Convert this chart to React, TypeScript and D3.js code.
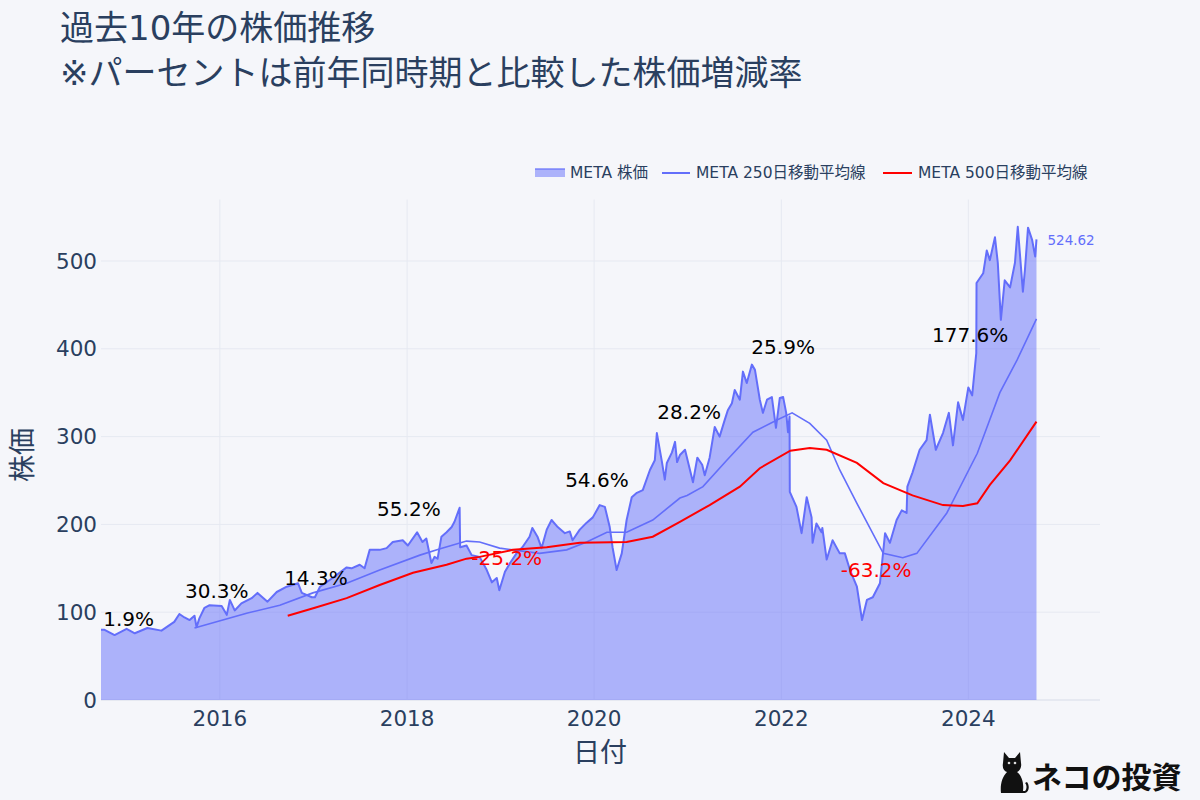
import React, { useEffect } from "react";
import * as d3 from "d3";

// ---------- data ----------
const priceDates = [
  "2014-09-24","2014-10-08","2014-11-16","2015-01-02","2015-02-03","2015-03-24","2015-05-18","2015-06-07",
  "2015-07-07","2015-07-27","2015-08-16","2015-09-05","2015-09-24","2015-10-02","2015-10-13","2015-11-02",
  "2015-11-22","2016-01-08","2016-01-28","2016-02-09","2016-02-28","2016-03-25","2016-05-04","2016-05-27",
  "2016-07-05","2016-08-10","2016-09-18","2016-11-01","2016-11-16","2016-12-25","2017-01-06","2017-01-26",
  "2017-03-16","2017-05-10","2017-05-29","2017-06-30","2017-07-19","2017-08-08","2017-09-16","2017-10-13",
  "2017-11-06","2017-12-15","2018-01-04","2018-02-09","2018-03-02","2018-03-17","2018-04-06","2018-04-18",
  "2018-04-30","2018-05-15","2018-06-04","2018-06-24","2018-07-05","2018-07-25","2018-07-27","2018-08-21",
  "2018-09-10","2018-10-11","2018-11-08","2018-11-28","2018-12-17","2018-12-27","2019-01-18","2019-02-07",
  "2019-03-04","2019-03-27","2019-04-24","2019-05-05","2019-05-25","2019-06-10","2019-06-30","2019-07-19",
  "2019-08-12","2019-09-09","2019-09-28","2019-10-09","2019-11-06","2019-12-03","2019-12-27","2020-01-23",
  "2020-02-12","2020-03-02","2020-03-13","2020-03-29","2020-04-18","2020-05-07","2020-05-27","2020-06-16",
  "2020-07-09","2020-08-06","2020-08-25","2020-09-02","2020-09-22","2020-10-03","2020-10-11","2020-10-31",
  "2020-11-12","2020-11-20","2020-12-01","2020-12-21","2021-01-21","2021-02-07","2021-02-26","2021-03-08",
  "2021-03-27","2021-04-16","2021-05-05","2021-05-25","2021-06-06","2021-06-22","2021-07-03","2021-07-23",
  "2021-08-04","2021-08-19","2021-09-08","2021-09-20","2021-10-09","2021-10-21","2021-11-06","2021-11-25",
  "2021-12-11","2021-12-26","2022-01-08","2022-01-20","2022-01-27","2022-02-02","2022-02-03","2022-03-01",
  "2022-03-21","2022-04-10","2022-04-29","2022-05-03","2022-05-18","2022-06-07","2022-06-10","2022-06-27",
  "2022-07-20","2022-08-17","2022-09-06","2022-09-26","2022-10-23","2022-11-12","2022-12-01","2022-12-24",
  "2023-01-21","2023-02-10","2023-03-01","2023-03-27","2023-04-16","2023-05-05","2023-05-08","2023-05-28",
  "2023-06-25","2023-07-22","2023-08-04","2023-08-27","2023-09-24","2023-10-17","2023-11-02","2023-11-22",
  "2023-12-11","2024-01-01","2024-01-16","2024-02-01","2024-02-02","2024-02-28","2024-03-13","2024-03-25",
  "2024-04-14","2024-04-25","2024-05-07","2024-05-22","2024-06-12","2024-07-01","2024-07-12","2024-08-01",
  "2024-08-09","2024-08-21","2024-09-06","2024-09-18","2024-09-23"
];
const priceValues = [
  80,80,74,81,76,82,79,83,
  89,98,94,91,96,83,93,105,
  108,107,97,114,102,110,116,122,
  112,123,129,133,122,117,117,129,
  139,151,150,154,150,171,171,173,
  180,182,176,191,180,184,156,163,
  161,186,191,197,203,219,174,176,
  165,163,148,134,139,125,146,156,
  167,174,186,196,186,173,194,205,
  197,190,192,182,194,202,208,222,
  220,197,174,148,167,205,231,236,
  239,262,273,304,271,251,270,282,
  294,271,279,285,248,276,268,256,
  276,311,300,319,330,338,353,342,
  374,361,382,376,342,327,342,345,
  310,344,345,327,305,323,237,220,
  190,231,208,179,201,191,196,160,
  182,167,167,148,129,91,114,117,
  133,190,179,205,216,213,243,259,
  285,296,325,285,304,327,290,339,
  319,356,347,395,475,486,512,501,
  527,498,433,478,470,498,539,465,
  490,538,524,505,524.62
];

const ma250Dates = [
  "2015-09-24","2016-04-18","2016-08-22","2016-12-29","2017-05-10","2017-09-16","2018-02-20","2018-05-07",
  "2018-08-21","2018-10-11","2018-12-28","2019-02-18","2019-06-02","2019-09-16","2019-12-03","2020-02-20",
  "2020-05-07","2020-08-17","2020-12-01","2020-12-29","2021-03-01","2021-06-02","2021-09-12","2021-12-15",
  "2022-02-12","2022-04-22","2022-06-27","2022-08-17","2022-10-23","2023-02-03","2023-04-20","2023-06-14",
  "2023-10-09","2024-02-05","2024-05-03","2024-07-09","2024-09-23"
];
const ma250Values = [
  82,99,108,122,133,148,165,172,
  181,180,173,171,167,171,180,191,
  191,205,230,233,243,273,305,319,
  327,315,296,262,224,167,162,167,
  213,281,350,387,434
];

const ma500Dates = [
  "2016-09-22","2017-01-06","2017-05-10","2017-09-16","2018-01-24","2018-06-04","2018-08-21","2018-10-11",
  "2019-02-18","2019-06-30","2019-11-06","2020-05-07","2020-08-17","2020-12-01","2021-03-27","2021-07-23",
  "2021-10-09","2022-02-05","2022-04-22","2022-06-27","2022-10-23","2023-02-03","2023-05-28","2023-09-24",
  "2023-12-11","2024-02-05","2024-03-25","2024-06-12","2024-09-23"
];
const ma500Values = [
  96,105,116,131,145,154,161,163,
  171,174,179,180,186,203,222,243,
  264,284,287,285,270,247,233,222,
  221,224,245,273,317
];

const annotationDates = [
  "2015-01-10","2015-12-20","2017-01-10","2018-01-08","2019-01-25",
  "2020-01-12","2021-01-06","2022-01-08","2023-01-06","2024-01-08"
];
const annotationTexts = ["1.9%","30.3%","14.3%","55.2%","-25.2%","54.6%","28.2%","25.9%","-63.2%","177.6%"];
const annotationValues = [92,124,139,217.5,162,250.6,328,402,148,416];

const xTickYears = [2016, 2018, 2020, 2022, 2024];
const yTicks = [0, 100, 200, 300, 400, 500];
const xDomain = ["2014-09-24", "2025-05-29"];
const yDomain = [0, 570];

const titleLines = ["過去10年の株価推移", "※パーセントは前年同時期と比較した株価増減率"];
const legendLabels = ["META 株価", "META 250日移動平均線", "META 500日移動平均線"];
const lastLabel = "524.62";

// ---------- style ----------
const BG = "#f5f6fa";
const GRID = "#e6e9f1";
const BLUE = "#636efa";
const RED = "#ff0000";
const INK = "#2a3f5f";
const FONT = "'DejaVu Sans', 'Noto Sans CJK JP', sans-serif";

export default function App() {
  useEffect(() => {
    document.body.style.margin = "0";
    document.body.style.background = BG;
  }, []);

  const parse = d3.timeParse("%Y-%m-%d");
  const price = priceDates.map((d, i) => ({ date: parse(d) as Date, v: priceValues[i] }));
  const ma250 = ma250Dates.map((d, i) => ({ date: parse(d) as Date, v: ma250Values[i] }));
  const ma500 = ma500Dates.map((d, i) => ({ date: parse(d) as Date, v: ma500Values[i] }));

  const left = 101, right = 1100, bottom = 700, unit = 0.878;
  const x = d3.scaleTime().domain(xDomain.map((d) => parse(d) as Date)).range([left, right]);
  const y = d3.scaleLinear().domain(yDomain).range([bottom, bottom - (yDomain[1] - yDomain[0]) * unit]);

  const area = d3.area<{ date: Date; v: number }>().x((d) => x(d.date)).y0(y(0)).y1((d) => y(d.v));
  const line = d3.line<{ date: Date; v: number }>().x((d) => x(d.date)).y((d) => y(d.v));

  const last = price[price.length - 1];

  return (
    <svg width={1200} height={800} style={{ display: "block", background: BG }} fontFamily={FONT}>
      <rect x={0} y={0} width={1200} height={800} fill={BG} />
      {/* grid */}
      {xTickYears.map((yr) => {
        const xx = x(new Date(yr, 0, 1));
        return <line key={"gx" + yr} x1={xx} x2={xx} y1={y(yDomain[1])} y2={bottom} stroke={GRID} strokeWidth={1} />;
      })}
      {yTicks.map((t) => (
        <line key={"gy" + t} x1={left} x2={right} y1={y(t)} y2={y(t)} stroke={GRID} strokeWidth={t === 0 ? 2 : 1} />
      ))}

      {/* price area + line */}
      <path d={area(price) || ""} fill={BLUE} fillOpacity={0.5} stroke="none" />
      <path d={line(price) || ""} fill="none" stroke={BLUE} strokeWidth={2} strokeLinejoin="round" />
      <path d={line(ma250) || ""} fill="none" stroke={BLUE} strokeWidth={1.6} />
      <path d={line(ma500) || ""} fill="none" stroke={RED} strokeWidth={2} />

      {/* annotations */}
      {annotationTexts.map((t, i) => (
        <text
          key={"an" + i}
          x={x(parse(annotationDates[i]) as Date)}
          y={y(annotationValues[i])}
          textAnchor="middle"
          dominantBaseline="central"
          fontSize={20}
          fill={t.startsWith("-") ? RED : "#000"}
        >
          {t}
        </text>
      ))}

      {/* last value */}
      <text x={x(last.date) + 11} y={y(last.v) + 1} dominantBaseline="central" fontSize={13.5} fill={BLUE}>
        {lastLabel}
      </text>

      {/* axes labels */}
      {xTickYears.map((yr) => (
        <text key={"xt" + yr} x={x(new Date(yr, 0, 1))} y={718} textAnchor="middle" dominantBaseline="central" fontSize={21.5} fill={INK}>
          {yr}
        </text>
      ))}
      {yTicks.map((t) => (
        <text key={"yt" + t} x={97} y={y(t)} textAnchor="end" dominantBaseline="central" fontSize={21.5} fill={INK}>
          {t}
        </text>
      ))}
      <text x={600} y={752} textAnchor="middle" dominantBaseline="central" fontSize={27} fill={INK}>日付</text>
      <text transform="translate(22,455) rotate(-90)" textAnchor="middle" dominantBaseline="central" fontSize={27} fill={INK}>株価</text>

      {/* title */}
      <text x={60} y={40} fontSize={34} fill={INK}>{titleLines[0]}</text>
      <text x={60} y={85} fontSize={34} fill={INK}>{titleLines[1]}</text>

      {/* legend */}
      <g fontSize={15.5} fill={INK}>
        <rect x={535} y={169} width={30} height={8} fill={BLUE} fillOpacity={0.5} />
        <line x1={535} x2={565} y1={169} y2={169} stroke={BLUE} strokeOpacity={0.6} strokeWidth={2} />
        <text x={570} y={173} dominantBaseline="central">{legendLabels[0]}</text>
        <line x1={662} x2={690} y1={173} y2={173} stroke={BLUE} strokeWidth={2} />
        <text x={696} y={173} dominantBaseline="central">{legendLabels[1]}</text>
        <line x1={883} x2={912} y1={173} y2={173} stroke={RED} strokeWidth={2} />
        <text x={918} y={173} dominantBaseline="central">{legendLabels[2]}</text>
      </g>

      {/* watermark */}
      <g transform="translate(998,751)">
        <path
          d="M5,12 L6,1 L11,7 L17,7 L22,1 L23,12 C24,17 21,20 19,21 C24,25 26,32 25,40 L27,40 C29,38 29,34 27,32 L29,31 C32,35 31,41 27,42 L3,42 C2,34 4,26 9,21 C6,20 4,17 5,12 Z"
          fill="#111"
        />
        <circle cx={11} cy={12} r={1.3} fill="#ddd" />
        <circle cx={17} cy={12} r={1.3} fill="#ddd" />
      </g>
      <text x={1032} y={788} fontSize={30} fontWeight={700} fill="#111" fontFamily="'Noto Sans CJK JP', sans-serif">ネコの投資</text>
    </svg>
  );
}
